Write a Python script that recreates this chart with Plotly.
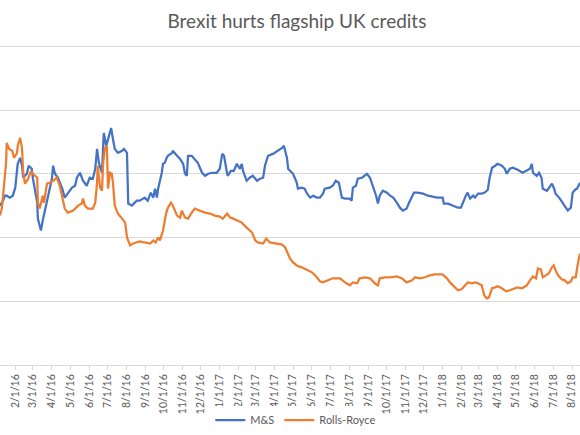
import plotly.graph_objects as go

# M&S spread series (bp)
ms_dates = [
    "2016-01-07", "2016-01-12", "2016-01-15", "2016-01-18", "2016-01-23", "2016-01-28",
    "2016-02-01", "2016-02-04", "2016-02-05", "2016-02-09", "2016-02-12", "2016-02-14",
    "2016-02-20", "2016-02-23", "2016-02-28", "2016-03-01", "2016-03-04", "2016-03-08",
    "2016-03-09", "2016-03-14", "2016-03-17", "2016-03-21", "2016-03-26", "2016-04-01",
    "2016-04-03", "2016-04-06", "2016-04-11", "2016-04-18", "2016-04-22", "2016-04-27",
    "2016-05-04", "2016-05-09", "2016-05-12", "2016-05-17", "2016-05-22", "2016-05-28",
    "2016-06-02", "2016-06-07", "2016-06-11", "2016-06-14", "2016-06-17", "2016-06-22",
    "2016-06-25", "2016-06-29", "2016-07-02", "2016-07-07", "2016-07-10", "2016-07-13",
    "2016-07-18", "2016-07-25", "2016-07-28", "2016-08-02", "2016-08-04", "2016-08-10",
    "2016-08-18", "2016-08-23", "2016-08-31", "2016-09-05", "2016-09-10", "2016-09-14",
    "2016-09-17", "2016-09-20", "2016-09-22", "2016-09-25", "2016-09-28", "2016-09-30",
    "2016-10-03", "2016-10-06", "2016-10-08", "2016-10-15", "2016-10-16", "2016-10-23",
    "2016-10-28", "2016-11-02", "2016-11-05", "2016-11-08", "2016-11-10", "2016-11-16",
    "2016-11-21", "2016-11-26", "2016-12-03", "2016-12-08", "2016-12-13", "2016-12-19",
    "2016-12-27", "2017-01-01", "2017-01-05", "2017-01-08", "2017-01-13", "2017-01-14",
    "2017-01-19", "2017-01-24", "2017-01-29", "2017-02-03", "2017-02-06", "2017-02-08",
    "2017-02-14", "2017-02-19", "2017-02-24", "2017-03-03", "2017-03-08", "2017-03-13",
    "2017-03-16", "2017-03-21", "2017-03-29", "2017-04-06", "2017-04-13", "2017-04-16",
    "2017-04-21", "2017-04-23", "2017-04-29", "2017-05-01", "2017-05-07", "2017-05-09",
    "2017-05-15", "2017-05-20", "2017-05-24", "2017-05-29", "2017-06-03", "2017-06-09",
    "2017-06-14", "2017-06-19", "2017-06-22", "2017-06-30", "2017-07-05", "2017-07-10",
    "2017-07-15", "2017-07-20", "2017-07-25", "2017-08-02", "2017-08-05", "2017-08-07",
    "2017-08-12", "2017-08-15", "2017-08-22", "2017-08-27", "2017-08-30", "2017-09-04",
    "2017-09-09", "2017-09-14", "2017-09-17", "2017-09-20", "2017-09-25", "2017-10-02",
    "2017-10-07", "2017-10-12", "2017-10-18", "2017-10-23", "2017-10-28", "2017-11-03",
    "2017-11-07", "2017-11-12", "2017-11-15", "2017-11-21", "2017-11-30", "2017-12-08",
    "2017-12-16", "2017-12-23", "2018-01-01", "2018-01-03", "2018-01-10", "2018-01-18",
    "2018-01-26", "2018-01-31", "2018-02-03", "2018-02-08", "2018-02-11", "2018-02-15",
    "2018-02-20", "2018-02-23", "2018-02-28", "2018-03-06", "2018-03-11", "2018-03-16",
    "2018-03-19", "2018-03-23", "2018-03-28", "2018-04-01", "2018-04-08", "2018-04-13",
    "2018-04-16", "2018-04-21", "2018-04-26", "2018-05-04", "2018-05-12", "2018-05-19",
    "2018-05-24", "2018-05-27", "2018-05-29", "2018-06-04", "2018-06-08", "2018-06-12",
    "2018-06-14", "2018-06-21", "2018-06-24", "2018-06-29", "2018-07-02", "2018-07-05",
    "2018-07-12", "2018-07-17", "2018-07-23", "2018-07-25", "2018-07-30", "2018-08-02",
    "2018-08-06", "2018-08-09", "2018-08-14",
]
ms_values = [
    125.0, 128.9, 132.8, 132.8, 131.3, 132.8,
    139.1, 150.0, 157.8, 162.5, 156.3, 146.9,
    150.0, 156.3, 153.9, 146.1, 139.1, 127.3,
    114.8, 105.5, 113.3, 122.7, 132.8, 146.1,
    156.3, 150.0, 146.9, 138.3, 131.3, 134.4,
    139.1, 140.6, 146.9, 150.8, 144.5, 140.6,
    146.9, 146.1, 153.9, 169.5, 158.6, 150.8,
    182.0, 171.9, 177.3, 185.9, 177.3, 169.5,
    166.4, 168.0, 169.5, 166.4, 126.6, 125.0,
    128.9, 128.9, 131.3, 128.9, 135.2, 131.3,
    138.3, 131.3, 138.3, 144.5, 150.8, 157.8,
    158.6, 162.5, 164.1, 166.4, 168.0, 164.1,
    161.7, 157.8, 150.0, 148.4, 164.1, 164.1,
    161.7, 158.6, 150.8, 148.4, 150.0, 150.8,
    150.8, 153.9, 165.6, 164.1, 150.0, 148.4,
    152.3, 152.3, 157.8, 153.9, 157.8, 152.3,
    144.5, 146.9, 148.4, 144.5, 146.1, 146.9,
    156.3, 164.1, 165.6, 168.0, 170.3, 171.9,
    162.5, 153.9, 150.8, 150.0, 143.0, 138.3,
    139.1, 138.3, 134.4, 131.3, 132.8, 131.3,
    131.3, 134.4, 138.3, 139.1, 140.6, 144.5,
    143.0, 131.3, 130.5, 130.5, 128.9, 139.1,
    140.6, 146.1, 146.9, 148.4, 150.0, 146.9,
    140.6, 132.8, 126.6, 132.8, 136.7, 135.2,
    132.8, 131.3, 127.3, 123.4, 121.1, 122.7,
    127.3, 132.8, 135.2, 135.2, 134.4, 132.8,
    132.0, 131.3, 131.3, 126.6, 126.6, 125.0,
    123.4, 123.4, 127.3, 132.8, 135.2, 130.5,
    132.8, 131.3, 134.4, 134.4, 135.2, 137.5,
    146.9, 154.7, 156.3, 157.8, 156.3, 153.9,
    150.0, 153.9, 154.7, 153.1, 150.8, 152.3,
    153.9, 157.8, 150.8, 148.4, 150.8, 146.9,
    138.3, 136.7, 139.1, 142.2, 139.1, 134.4,
    130.5, 126.6, 122.7, 121.1, 123.4, 135.2,
    137.5, 138.3, 143.0,
]

# Rolls-Royce spread series (bp)
rr_dates = [
    "2016-01-07", "2016-01-10", "2016-01-14", "2016-01-17", "2016-01-18", "2016-01-22",
    "2016-01-27", "2016-01-30", "2016-02-04", "2016-02-05", "2016-02-09", "2016-02-12",
    "2016-02-14", "2016-02-17", "2016-02-22", "2016-02-27", "2016-03-01", "2016-03-08",
    "2016-03-09", "2016-03-12", "2016-03-17", "2016-03-19", "2016-03-24", "2016-03-29",
    "2016-04-03", "2016-04-09", "2016-04-14", "2016-04-18", "2016-04-22", "2016-04-27",
    "2016-05-06", "2016-05-14", "2016-05-20", "2016-05-22", "2016-05-25", "2016-05-30",
    "2016-06-07", "2016-06-11", "2016-06-14", "2016-06-15", "2016-06-19", "2016-06-22",
    "2016-06-24", "2016-06-27", "2016-06-30", "2016-07-02", "2016-07-05", "2016-07-08",
    "2016-07-10", "2016-07-13", "2016-07-18", "2016-07-25", "2016-07-30", "2016-08-02",
    "2016-08-07", "2016-08-12", "2016-08-23", "2016-08-31", "2016-09-09", "2016-09-14",
    "2016-09-18", "2016-09-22", "2016-09-25", "2016-09-30", "2016-10-05", "2016-10-08",
    "2016-10-13", "2016-10-16", "2016-10-23", "2016-10-28", "2016-10-31", "2016-11-05",
    "2016-11-10", "2016-11-16", "2016-11-21", "2016-11-29", "2016-12-08", "2016-12-16",
    "2016-12-24", "2017-01-01", "2017-01-06", "2017-01-13", "2017-01-18", "2017-01-23",
    "2017-01-29", "2017-02-06", "2017-02-14", "2017-02-23", "2017-02-28", "2017-03-04",
    "2017-03-13", "2017-03-18", "2017-03-24", "2017-04-01", "2017-04-13", "2017-04-18",
    "2017-04-23", "2017-04-26", "2017-05-01", "2017-05-07", "2017-05-15", "2017-05-24",
    "2017-06-01", "2017-06-09", "2017-06-14", "2017-06-19", "2017-06-27", "2017-07-05",
    "2017-07-17", "2017-07-25", "2017-08-02", "2017-08-07", "2017-08-14", "2017-08-18",
    "2017-08-27", "2017-09-04", "2017-09-12", "2017-09-17", "2017-09-20", "2017-09-28",
    "2017-10-07", "2017-10-18", "2017-10-26", "2017-11-03", "2017-11-12", "2017-11-17",
    "2017-11-25", "2017-12-03", "2017-12-11", "2017-12-19", "2018-01-01", "2018-01-08",
    "2018-01-13", "2018-01-21", "2018-01-26", "2018-02-01", "2018-02-06", "2018-02-11",
    "2018-02-18", "2018-02-23", "2018-02-28", "2018-03-06", "2018-03-10", "2018-03-14",
    "2018-03-18", "2018-03-23", "2018-03-28", "2018-04-01", "2018-04-08", "2018-04-15",
    "2018-04-21", "2018-04-26", "2018-05-03", "2018-05-11", "2018-05-19", "2018-05-24",
    "2018-05-29", "2018-06-03", "2018-06-06", "2018-06-11", "2018-06-14", "2018-06-19",
    "2018-06-24", "2018-06-29", "2018-07-02", "2018-07-05", "2018-07-09", "2018-07-15",
    "2018-07-20", "2018-07-25", "2018-07-30", "2018-08-02", "2018-08-07", "2018-08-10",
    "2018-08-14",
]
rr_values = [
    117.2, 122.7, 143.0, 158.6, 174.2, 169.5,
    168.0, 162.5, 166.4, 171.9, 178.1, 170.3,
    150.8, 142.2, 146.1, 152.3, 150.0, 146.9,
    127.3, 122.7, 132.8, 127.3, 142.2, 143.0,
    144.5, 146.9, 140.6, 130.5, 122.7, 119.5,
    121.1, 125.0, 126.6, 130.5, 125.0, 122.7,
    122.7, 127.3, 143.0, 156.3, 139.1, 136.7,
    158.6, 170.3, 171.9, 138.3, 150.8, 150.0,
    143.0, 125.0, 118.8, 114.8, 111.7, 100.0,
    93.8, 95.3, 96.9, 96.1, 95.3, 97.7,
    96.1, 100.0, 97.7, 105.5, 118.8, 123.4,
    127.3, 125.0, 117.2, 115.6, 121.1, 115.6,
    114.8, 119.5, 122.7, 121.1, 119.5, 118.8,
    117.2, 116.4, 114.8, 118.8, 115.6, 114.8,
    113.3, 111.7, 107.8, 103.9, 97.7, 96.1,
    95.3, 99.2, 96.1, 95.3, 94.5, 92.2,
    85.9, 83.6, 80.5, 78.1, 76.6, 74.2,
    72.7, 68.8, 65.6, 64.8, 66.4, 68.0,
    68.0, 64.8, 62.5, 64.8, 64.1, 68.0,
    68.8, 68.0, 64.1, 62.5, 68.0, 68.8,
    68.8, 69.5, 68.0, 64.8, 66.4, 68.8,
    68.0, 68.8, 70.3, 71.1, 71.1, 68.0,
    64.8, 60.9, 58.6, 59.4, 62.5, 64.8,
    64.1, 64.8, 64.1, 62.5, 54.7, 52.3,
    53.1, 60.2, 60.9, 61.7, 60.2, 57.8,
    58.6, 59.4, 60.9, 60.2, 62.5, 66.4,
    69.5, 68.0, 75.8, 75.0, 68.8, 70.3,
    71.9, 76.6, 78.1, 74.2, 70.3, 67.2,
    66.4, 64.1, 65.6, 68.8, 68.8, 78.1,
    87.5,
]

month_ticks = [
    "2016-02-01", "2016-03-01", "2016-04-01", "2016-05-01", "2016-06-01", "2016-07-01",
    "2016-08-01", "2016-09-01", "2016-10-01", "2016-11-01", "2016-12-01", "2017-01-01",
    "2017-02-01", "2017-03-01", "2017-04-01", "2017-05-01", "2017-06-01", "2017-07-01",
    "2017-08-01", "2017-09-01", "2017-10-01", "2017-11-01", "2017-12-01", "2018-01-01",
    "2018-02-01", "2018-03-01", "2018-04-01", "2018-05-01", "2018-06-01", "2018-07-01",
    "2018-08-01",
]
tick_labels = [
    "2/1/16", "3/1/16", "4/1/16", "5/1/16", "6/1/16", "7/1/16", "8/1/16", "9/1/16",
    "10/1/16", "11/1/16", "12/1/16", "1/1/17", "2/1/17", "3/1/17", "4/1/17", "5/1/17",
    "6/1/17", "7/1/17", "8/1/17", "9/1/17", "10/1/17", "11/1/17", "12/1/17", "1/1/18",
    "2/1/18", "3/1/18", "4/1/18", "5/1/18", "6/1/18", "7/1/18", "8/1/18",
]

GREY_TEXT = "#595959"
GRID = "#d9d9d9"

fig = go.Figure()
fig.add_trace(go.Scatter(x=ms_dates, y=ms_values, mode="lines", name="M&S",
                         line=dict(color="#4472C4", width=2.25)))
fig.add_trace(go.Scatter(x=rr_dates, y=rr_values, mode="lines", name="Rolls-Royce",
                         line=dict(color="#ED7D31", width=2.25)))

fig.update_layout(
    width=580, height=435,
    margin=dict(t=45, l=0, r=0, b=70),
    paper_bgcolor="white", plot_bgcolor="white",
    font=dict(family="Lato, Open Sans, sans-serif", color=GREY_TEXT),
    title=dict(text="Brexit hurts flagship UK credits", x=0.512, xanchor="center",
               y=0.952, yanchor="middle", font=dict(size=19, color=GREY_TEXT)),
    showlegend=True,
    legend=dict(orientation="h", xanchor="center", x=0.51, yanchor="middle", y=-0.172,
                font=dict(size=11, color=GREY_TEXT)),
)
fig.update_xaxes(
    range=["2016-01-07", "2018-08-14"],
    tickmode="array", tickvals=month_ticks, ticktext=tick_labels,
    tickangle=-90, tickfont=dict(size=10.5, color=GREY_TEXT),
    ticks="outside", ticklen=4, tickcolor=GRID,
    showline=True, linecolor=GRID, linewidth=1,
    showgrid=False, zeroline=False, automargin=False,
)
fig.update_yaxes(
    range=[0, 251], dtick=50, showticklabels=False,
    showgrid=True, gridcolor=GRID, gridwidth=1,
    zeroline=False, showline=False, automargin=False,
)

# drop the browser's default page margin so the figure sits at the window corner
fig.write_html("out.html", config={"displayModeBar": False},
               post_script="document.body.style.margin='0';")
